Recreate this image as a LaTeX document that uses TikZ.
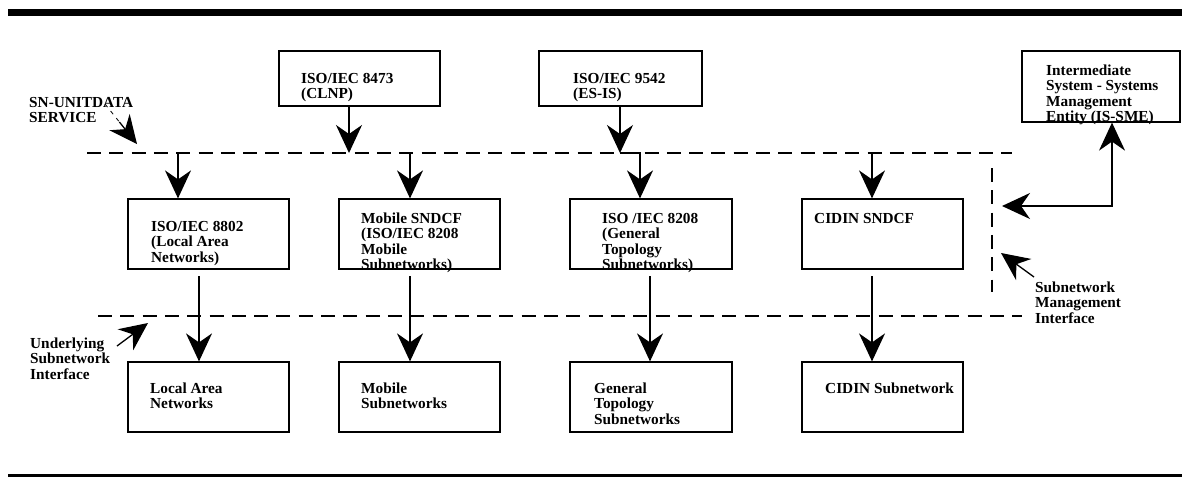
\documentclass[tikz,border=0pt]{standalone}
\usepackage{fontspec}
\setmainfont{Liberation Serif}
\usetikzlibrary{arrows.meta,calc}
\begin{document}
\begin{tikzpicture}[x=1pt,y=-1pt,
  box/.style={draw, line width=1.2pt, inner sep=0pt, rectangle},
  bigbox/.style={box, minimum width=161pt, minimum height=70pt},
  lbl/.style={anchor=north west, inner sep=0pt, align=left, font=\fontsize{15.3}{15.6}\selectfont\bfseries},
  arr/.style={line width=1.3pt, -{Stealth[length=28pt,width=26pt,inset=9pt]}},
  iface/.style={line width=2pt, dash pattern=on 14pt off 8.3pt},
]
\useasboundingbox (0,0) rectangle (1182,477);
% frame bars
\fill (8,9) rectangle (1182,16);
\fill (8,474) rectangle (1182,477);

% top boxes
\node[box, minimum width=161pt, minimum height=55pt] (clnp) at (359.5,78.5) {};
\node[box, minimum width=163pt, minimum height=55pt] (esis) at (620.5,78.5) {};
\node[box, minimum width=158pt, minimum height=71pt] (issme) at (1101,86.5) {};
\node[lbl] (tclnp) at (301,72) {\strut ISO/IEC 8473\\\strut (CLNP)};
\node[lbl] (tesis) at (573,72) {\strut ISO/IEC 9542\\\strut (ES-IS)};
\node[lbl] (tissme) at (1046,64) {\strut Intermediate\\\strut System - Systems\\\strut Management\\\strut Entity (IS-SME)};

% middle boxes
\node[bigbox] (m1) at (208.5,234) {};
\node[bigbox] (m2) at (419.5,234) {};
\node[bigbox, minimum width=162pt] (m3) at (651,234) {};
\node[bigbox] (m4) at (882.5,234) {};
\node[lbl] (tm1) at (151,220) {\strut ISO/IEC 8802\\\strut (Local Area\\\strut Networks)};
\node[lbl] (tm2) at (361,212) {\strut Mobile SNDCF\\\strut (ISO/IEC 8208\\\strut Mobile\\\strut Subnetworks)};
\node[lbl] (tm3) at (602,212) {\strut ISO /IEC 8208\\\strut (General\\\strut Topology\\\strut Subnetworks)};
\node[lbl] (tm4) at (814,212) {\strut CIDIN SNDCF};

% bottom boxes
\node[bigbox] (b1) at (208.5,397) {};
\node[bigbox] (b2) at (419.5,397) {};
\node[bigbox, minimum width=162pt] (b3) at (651,397) {};
\node[bigbox] (b4) at (882.5,397) {};
\node[lbl] (tb1) at (150,382) {\strut Local Area\\\strut Networks};
\node[lbl] (tb2) at (361,382) {\strut Mobile\\\strut Subnetworks};
\node[lbl] (tb3) at (594,382) {\strut General\\\strut Topology\\\strut Subnetworks};
\node[lbl] (tb4) at (825,382) {\strut CIDIN Subnetwork};

% interface lines
\coordinate (snL) at (87,153);
\coordinate (snR) at (1012,153);
\coordinate (usL) at (98,316);
\coordinate (usR) at (1022,316);
\coordinate (smT) at (992,168);
\coordinate (smB) at (992,292);
\draw[iface] (snL) -- (snR);
\draw[iface] (usL) -- (usR);
\draw[iface] (smT) -- (smB);

% side labels
\node[lbl] (tsn) at (29,96) {\strut SN-UNITDATA\\\strut SERVICE};
\node[lbl] (tus) at (30,337) {\strut Underlying\\\strut Subnetwork\\\strut Interface};
\node[lbl] (tsm) at (1035,281) {\strut Subnetwork\\\strut Management\\\strut Interface};

% arrows into the SN-UNITDATA line
\coordinate (c1) at (349,153);
\coordinate (c2) at (620,153);
\draw[arr] (clnp.south -| c1) -- (c1);
\draw[arr] (esis.south -| c2) -- (c2);

% arrows from the SN-UNITDATA line to the SNDCFs
\coordinate (d1) at (178,153);
\coordinate (d2) at (410,153);
\coordinate (d3) at (640,153);
\coordinate (d4) at (872,153);
\draw[arr] (d1) -- (d1 |- m1.north);
\draw[arr] (d2) -- (d2 |- m2.north);
\draw[arr] (c2) -- (d3) -- (d3 |- m3.north);
\draw[arr] (d4) -- (d4 |- m4.north);

% arrows from SNDCFs to subnetworks
\coordinate (e1) at (199,276);
\coordinate (e2) at (410,276);
\coordinate (e3) at (650,276);
\coordinate (e4) at (872,276);
\draw[arr] (e1) -- (e1 |- b1.north);
\draw[arr] (e2) -- (e2 |- b2.north);
\draw[arr] (e3) -- (e3 |- b3.north);
\draw[arr] (e4) -- (e4 |- b4.north);

% IS-SME link
\coordinate (k) at (1112,206);
\coordinate (kt) at (1002,206);
\draw[line width=1.3pt, {Stealth[length=28pt,width=26pt,inset=9pt]}-{Stealth[length=28pt,width=26pt,inset=9pt]}] (kt) -- (k) -- (k |- issme.south);

% label pointers
\coordinate (snA) at (105,104);
\coordinate (snB) at (137,144);
\draw[line width=0.8pt, dash pattern=on 4pt off 5pt] (snA) -- ($(snA)!0.5!(snB)$);
\draw[arr] ($(snA)!0.45!(snB)$) -- (snB);
\coordinate (usA) at (117,346);
\coordinate (usB) at (148,323);
\draw[arr] (usA) -- (usB);
\coordinate (smA) at (1034,277);
\coordinate (smC) at (1001,253);
\draw[arr] (smA) -- (smC);
\end{tikzpicture}
\end{document}
